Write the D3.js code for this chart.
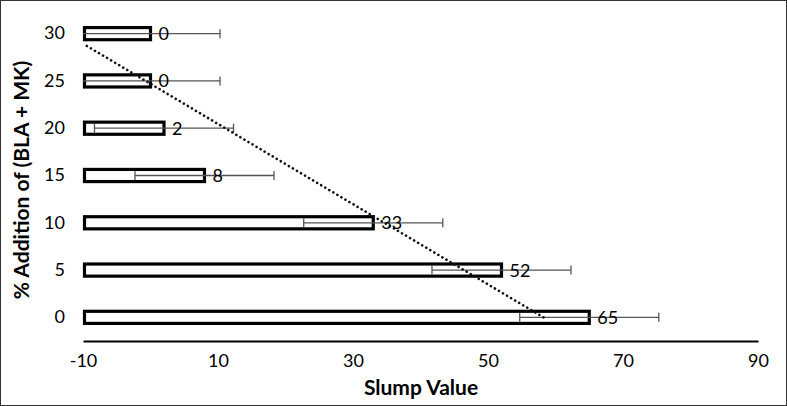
<!DOCTYPE html>
<html><head><meta charset="utf-8">
<script src="https://cdn.jsdelivr.net/npm/d3@7"></script>
<style>body{margin:0;background:#fff}svg{display:block}text{font-family:Lato,"Open Sans",sans-serif}</style>
</head><body>
<svg id="c" width="787" height="406"></svg>
<script>
const categories = ["0","5","10","15","20","25","30"];
const slump = [65,52,33,8,2,0,0];
const errors = [10.3,10.3,10.3,10.3,10.3,10.3,10.3];
const xTicks = [-10,10,30,50,70,90];

const svg = d3.select("#c");
const W=787,H=406;
svg.append("rect").attr("x",0.5).attr("y",0.5).attr("width",W-1).attr("height",H-1)
  .attr("fill","#fff").attr("stroke","#333").attr("stroke-width",1);

const x = d3.scaleLinear().domain([-10,90]).range([83,758]);
const y = d3.scaleBand().domain(categories).range([341,10]).paddingInner(0.68).paddingOuter(0.34);

// x axis
const xa = svg.append("g").attr("transform","translate(0,341)")
  .call(d3.axisBottom(x).tickValues(xTicks).tickSize(0).tickPadding(0).tickFormat(d=>String(d)));
xa.select(".domain").attr("stroke","#000").attr("stroke-width",2);
xa.selectAll("text").attr("font-size",18).attr("fill","#000").attr("dy","1.45em");

// y axis labels
const ya = svg.append("g").attr("transform","translate(65,0)")
  .call(d3.axisLeft(y).tickSize(0).tickPadding(0));
ya.select(".domain").remove();
ya.selectAll("text").attr("font-size",18).attr("fill","#000");

// bars
const data = categories.map((c,i)=>({c, v:slump[i], e:errors[i]}));
svg.append("g").selectAll("rect").data(data).join("rect")
  .attr("x",x(-10)+1.5).attr("y",d=>y(d.c)+1.5)
  .attr("width",d=>Math.max(0,x(d.v)-x(-10)-1.5)).attr("height",y.bandwidth()-3)
  .attr("fill","#fff").attr("stroke","#000").attr("stroke-width",3.2);

// error bars
const eg = svg.append("g").attr("stroke","#555").attr("stroke-width",1.3);
data.forEach(d=>{
  const cy = y(d.c)+y.bandwidth()/2;
  const lo = Math.max(-10,d.v-d.e), hi = d.v+d.e;
  eg.append("line").attr("x1",x(lo)).attr("x2",x(hi)).attr("y1",cy).attr("y2",cy);
  if (d.v-d.e > -10) eg.append("line").attr("x1",x(lo)).attr("x2",x(lo)).attr("y1",cy-4.5).attr("y2",cy+4.5);
  eg.append("line").attr("x1",x(hi)).attr("x2",x(hi)).attr("y1",cy-4.5).attr("y2",cy+4.5);
});

// linear trendline (least squares over category index)
const n = data.length;
const idx = d3.range(n);
const mx = d3.mean(idx), my = d3.mean(slump);
const slope = d3.sum(idx,i=>(i-mx)*(slump[i]-my))/d3.sum(idx,i=>(i-mx)*(i-mx));
const icpt = my - slope*mx;
const yPos = t => y(categories[0]) + y.bandwidth()/2 - t*(y.step());
let t0 = 0, t1 = n-1;
const v1 = icpt + slope*t1;
if (v1 < -10) t1 = (-10 - icpt)/slope;
svg.append("line")
  .attr("x1",x(icpt+slope*t0)).attr("y1",yPos(t0))
  .attr("x2",x(icpt+slope*t1)).attr("y2",yPos(t1))
  .attr("stroke","#111").attr("stroke-width",2.6).attr("stroke-dasharray","0.1,4.6").attr("stroke-linecap","round");

// value labels
svg.append("g").selectAll("text").data(data).join("text")
  .attr("x",d=>x(d.v)+8).attr("y",d=>y(d.c)+y.bandwidth()/2).attr("dy","0.36em")
  .attr("font-size",18).attr("fill","#000").text(d=>d.v);

// titles
svg.append("text").attr("x",421).attr("y",395).attr("text-anchor","middle")
  .attr("font-size",21).attr("font-weight","bold").text("Slump Value");
svg.append("text").attr("transform","translate(29,180) rotate(-90)").attr("text-anchor","middle")
  .attr("font-size",21).attr("font-weight","bold").text("% Addition of (BLA + MK)");
</script>
</body></html>
